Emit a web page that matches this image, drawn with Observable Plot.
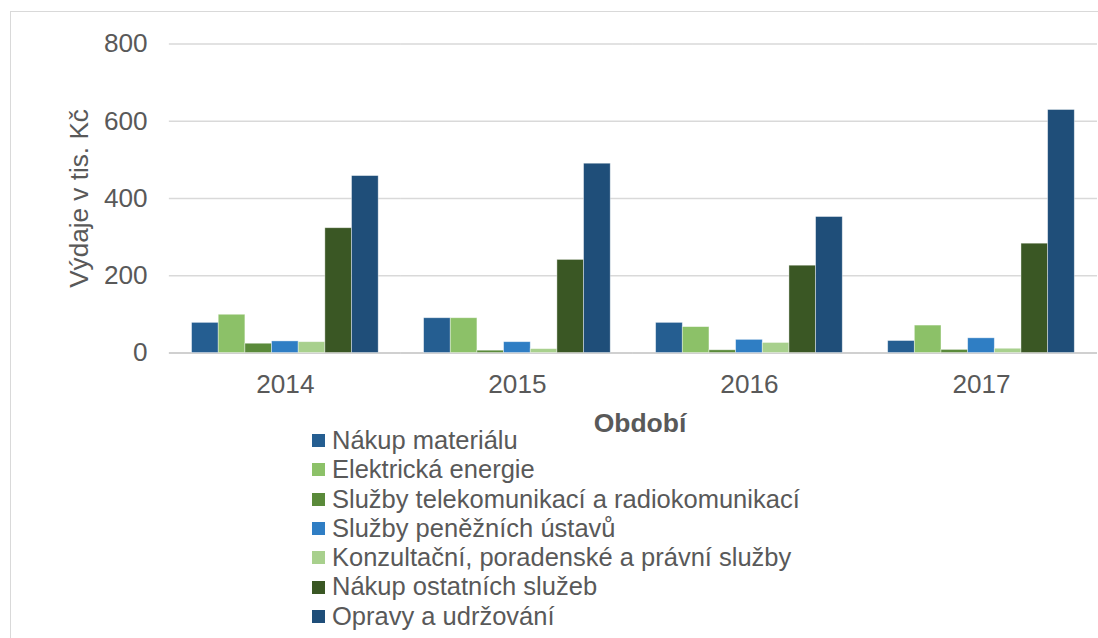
<!DOCTYPE html>
<html>
<head>
<meta charset="utf-8">
<script src="https://cdn.jsdelivr.net/npm/d3@7"></script>
<script src="https://cdn.jsdelivr.net/npm/@observablehq/plot@0.6"></script>
<style>
  html, body { margin: 0; padding: 0; background: #fff; overflow: hidden; }
  #wrap { position: relative; width: 1098px; height: 638px; overflow: hidden; font-family: "Liberation Sans", Arial, sans-serif; color: #595959; }
  #border { position: absolute; left: 10px; top: 11px; width: 1200px; height: 700px; border-left: 1.5px solid #d9d9d9; border-top: 1.5px solid #d9d9d9; }
  #chart { position: absolute; left: 0; top: 0; }
  #xtitle { position: absolute; left: 540px; width: 200px; top: 408px; text-align: center; font-weight: bold; font-size: 26.5px; line-height: 30px; }
  #legend { position: absolute; left: 312px; top: 426px; font-size: 25.5px; }
  .item { height: 29.3px; line-height: 29.3px; white-space: nowrap; display: flex; align-items: center; }
  .sw { width: 13px; height: 13px; margin-right: 7px; flex: none; }
</style>
</head>
<body>
<div id="wrap">
  <div id="border"></div>
  <div id="chart"></div>
  <div id="xtitle">Období</div>
  <div id="legend"></div>
</div>
<script>
const years = ["2014", "2015", "2016", "2017"];
const series = [
  "Nákup materiálu",
  "Elektrická energie",
  "Služby telekomunikací a radiokomunikací",
  "Služby peněžních ústavů",
  "Konzultační, poradenské a právní služby",
  "Nákup ostatních služeb",
  "Opravy a udržování"
];
const nakupMaterialu     = [78, 90, 78, 31];
const elektrickaEnergie  = [99, 90, 67, 71];
const telekomunikace     = [24, 6, 7, 8];
const penezniUstavy      = [30, 28, 34, 38];
const konzultacni        = [28, 10, 26, 11];
const nakupOstatnich     = [323, 241, 226, 283];
const opravy             = [458, 490, 352, 629];
const yTicks = [0, 200, 400, 600, 800];
const colors = ["#255E91", "#8CC168", "#5A8A3A", "#2F7EC4", "#A8D08D", "#3A5724", "#1F4E79"];

const seriesValues = [nakupMaterialu, elektrickaEnergie, telekomunikace, penezniUstavy, konzultacni, nakupOstatnich, opravy];
const data = [];
years.forEach((year, i) => {
  series.forEach((s, j) => {
    data.push({year, series: s, value: seriesValues[j][i]});
  });
});

const chart = Plot.plot({
  width: 1112,
  height: 414,
  marginLeft: 170,
  marginRight: 1,
  marginTop: 44,
  marginBottom: 57,
  style: {fontFamily: '"Liberation Sans", Arial, sans-serif', fontSize: "26.5px", color: "#595959", background: "transparent", overflow: "visible"},
  fx: {domain: years, padding: 0, label: null, tickSize: 0, tickPadding: 22, axis: "bottom"},
  x: {domain: series, paddingInner: 0, paddingOuter: 0.766, axis: null},
  y: {domain: [0, 800], ticks: yTicks, tickSize: 0, tickPadding: 22, label: "Výdaje v tis. Kč", labelArrow: "none", labelAnchor: "center", labelOffset: 101, tickFormat: d => String(d)},
  color: {domain: series, range: colors},
  marks: [
    Plot.ruleY(yTicks.filter(d => d > 0), {stroke: "#d9d9d9", strokeWidth: 1.5}),
    Plot.ruleY([0], {stroke: "#d0d0d0", strokeWidth: 2}),
    Plot.barY(data, {fx: "year", x: "series", y: "value", fill: "series", stroke: "white", strokeWidth: 0.8, strokeOpacity: 0.5})
  ]
});
document.getElementById("chart").appendChild(chart);

const legend = document.getElementById("legend");
series.forEach((s, j) => {
  const item = document.createElement("div");
  item.className = "item";
  const sw = document.createElement("span");
  sw.className = "sw";
  sw.style.background = colors[j];
  const t = document.createElement("span");
  t.textContent = s;
  item.appendChild(sw);
  item.appendChild(t);
  legend.appendChild(item);
});
</script>
</body>
</html>
